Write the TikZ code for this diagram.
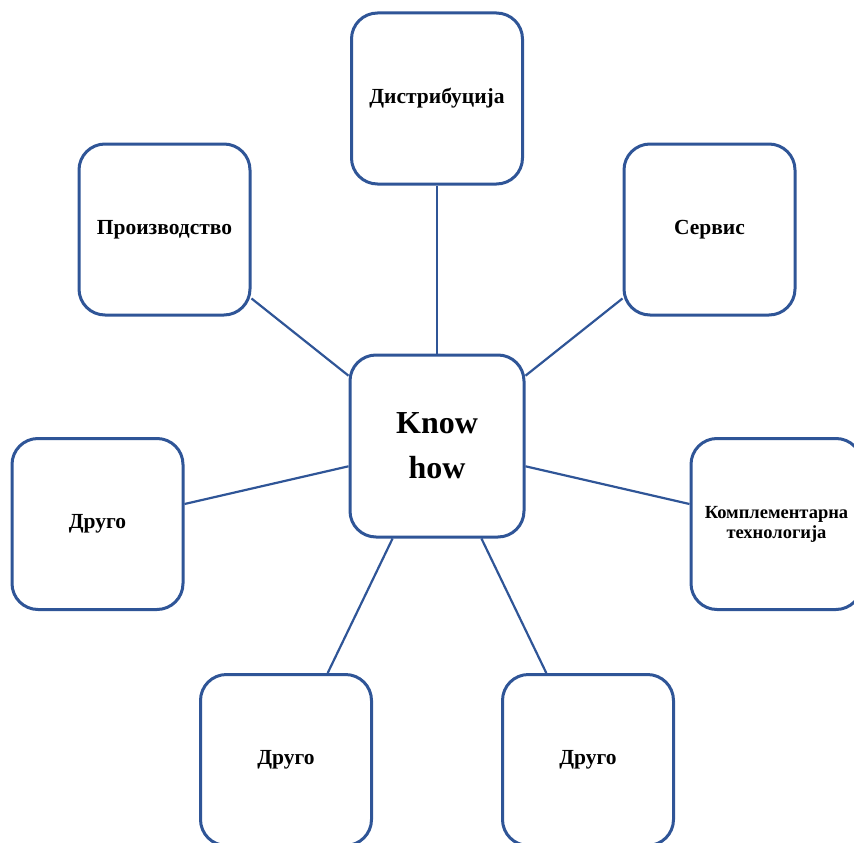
\documentclass[tikz,border=0pt]{standalone}
\usepackage{fontspec}
\setmainfont{Liberation Serif}
\usepackage{tikz}
\usetikzlibrary{positioning}
\definecolor{boxblue}{RGB}{47,85,151}

\begin{document}
\begin{tikzpicture}[x=1pt, y=-1pt,
    box/.style={draw=boxblue, line width=3pt, rounded corners=26pt, fill=white,
        minimum width=171pt, minimum height=171pt, align=center,
        font=\fontsize{21.5}{24}\selectfont\bfseries},
    link/.style={draw=boxblue, line width=2.2pt}]

    \useasboundingbox (0,0) rectangle (854,843);

    \node[box, minimum width=174pt, minimum height=182pt,
        font=\fontsize{32}{45}\selectfont\bfseries] (know) at (437,446) {Know\\how};
    \node[box] (distr) at (437,98.5) {Дистрибуција};
    \node[box] (proizv) at (164.5,229.5) {Производство};
    \node[box] (servis) at (709.5,229.5) {Сервис};
    \node[box] (drugoL) at (97.5,524) {Друго};
    \node[box, font=\fontsize{18.5}{20}\selectfont\bfseries] (kompl) at (776.5,524) {Комплементарна\\технологија};
    \node[box] (drugoBL) at (286,760) {Друго};
    \node[box] (drugoBR) at (588,760) {Друго};

    \path[link]
        (know) edge (distr)
        (know) edge (proizv)
        (know) edge (servis)
        (know) edge (drugoL)
        (know) edge (kompl)
        (know) edge (drugoBL)
        (know) edge (drugoBR);

\end{tikzpicture}
\end{document}
